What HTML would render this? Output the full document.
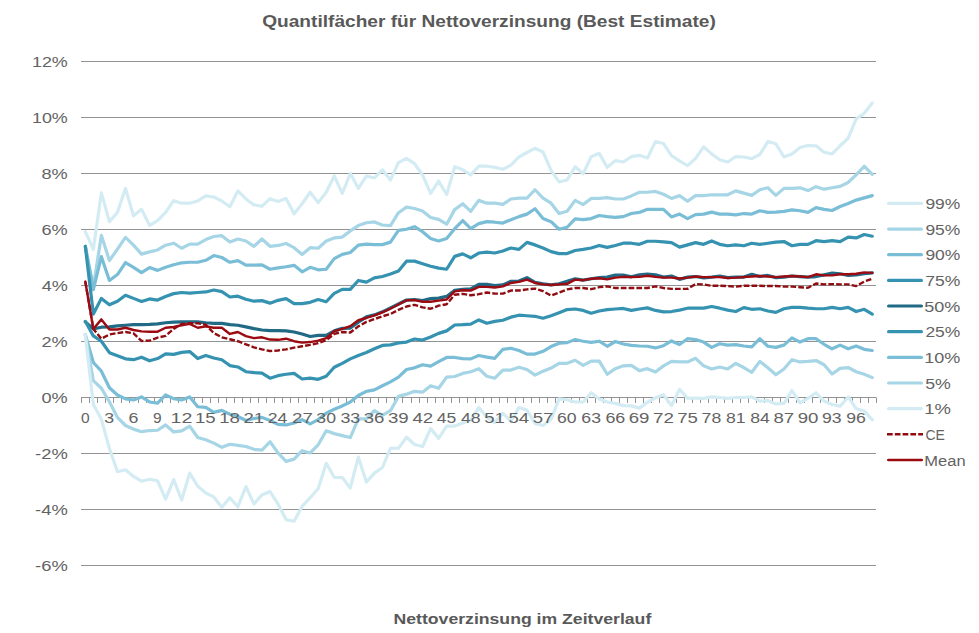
<!DOCTYPE html><html><head><meta charset="utf-8"><style>html,body{margin:0;padding:0;background:#fff;}svg{display:block;}</style></head><body>
<svg width="979" height="633" viewBox="0 0 979 633" style="font-family:'Liberation Sans',sans-serif">
<rect width="979" height="633" fill="#fff"/>
<line x1="81" y1="565.5" x2="876" y2="565.5" stroke="#939393" stroke-width="1"/>
<line x1="81" y1="509.5" x2="876" y2="509.5" stroke="#939393" stroke-width="1"/>
<line x1="81" y1="453.5" x2="876" y2="453.5" stroke="#939393" stroke-width="1"/>
<line x1="81" y1="397.5" x2="876" y2="397.5" stroke="#939393" stroke-width="1"/>
<line x1="81" y1="341.5" x2="876" y2="341.5" stroke="#939393" stroke-width="1"/>
<line x1="81" y1="285.5" x2="876" y2="285.5" stroke="#939393" stroke-width="1"/>
<line x1="81" y1="229.5" x2="876" y2="229.5" stroke="#939393" stroke-width="1"/>
<line x1="81" y1="173.5" x2="876" y2="173.5" stroke="#939393" stroke-width="1"/>
<line x1="81" y1="117.5" x2="876" y2="117.5" stroke="#939393" stroke-width="1"/>
<line x1="81" y1="61.5" x2="876" y2="61.5" stroke="#939393" stroke-width="1"/>
<path d="M81.5 397.5V403 M89.5 397.5V403 M97.5 397.5V403 M105.5 397.5V403 M113.5 397.5V403 M121.5 397.5V403 M129.5 397.5V403 M138.5 397.5V403 M146.5 397.5V403 M154.5 397.5V403 M162.5 397.5V403 M170.5 397.5V403 M178.5 397.5V403 M186.5 397.5V403 M194.5 397.5V403 M202.5 397.5V403 M210.5 397.5V403 M218.5 397.5V403 M226.5 397.5V403 M234.5 397.5V403 M242.5 397.5V403 M250.5 397.5V403 M258.5 397.5V403 M266.5 397.5V403 M274.5 397.5V403 M282.5 397.5V403 M290.5 397.5V403 M298.5 397.5V403 M306.5 397.5V403 M314.5 397.5V403 M322.5 397.5V403 M330.5 397.5V403 M338.5 397.5V403 M346.5 397.5V403 M354.5 397.5V403 M362.5 397.5V403 M370.5 397.5V403 M378.5 397.5V403 M386.5 397.5V403 M394.5 397.5V403 M402.5 397.5V403 M411.5 397.5V403 M419.5 397.5V403 M427.5 397.5V403 M435.5 397.5V403 M443.5 397.5V403 M451.5 397.5V403 M459.5 397.5V403 M467.5 397.5V403 M475.5 397.5V403 M483.5 397.5V403 M491.5 397.5V403 M499.5 397.5V403 M507.5 397.5V403 M515.5 397.5V403 M523.5 397.5V403 M531.5 397.5V403 M539.5 397.5V403 M547.5 397.5V403 M555.5 397.5V403 M563.5 397.5V403 M571.5 397.5V403 M579.5 397.5V403 M587.5 397.5V403 M595.5 397.5V403 M603.5 397.5V403 M611.5 397.5V403 M619.5 397.5V403 M627.5 397.5V403 M635.5 397.5V403 M643.5 397.5V403 M651.5 397.5V403 M659.5 397.5V403 M667.5 397.5V403 M676.5 397.5V403 M684.5 397.5V403 M692.5 397.5V403 M700.5 397.5V403 M708.5 397.5V403 M716.5 397.5V403 M724.5 397.5V403 M732.5 397.5V403 M740.5 397.5V403 M748.5 397.5V403 M756.5 397.5V403 M764.5 397.5V403 M772.5 397.5V403 M780.5 397.5V403 M788.5 397.5V403 M796.5 397.5V403 M804.5 397.5V403 M812.5 397.5V403 M820.5 397.5V403 M828.5 397.5V403 M836.5 397.5V403 M844.5 397.5V403 M852.5 397.5V403 M860.5 397.5V403 M868.5 397.5V403 M876.5 397.5V403" stroke="#939393" stroke-width="1" fill="none"/>
<polyline points="85.31,231.74 93.34,249.38 101.38,192.82 109.41,221.66 117.44,212.42 125.47,188.34 133.50,215.78 141.52,209.34 149.56,225.30 157.58,220.54 165.62,212.42 173.64,200.66 181.67,203.18 189.70,203.18 197.73,200.94 205.76,195.90 213.79,197.02 221.82,200.94 229.85,206.82 237.88,190.86 245.91,198.98 253.94,204.86 261.97,206.26 270.00,198.70 278.03,201.50 286.06,198.42 294.09,213.82 302.12,203.74 310.15,192.26 318.19,202.62 326.21,192.26 334.25,176.02 342.27,193.38 350.31,173.50 358.33,188.34 366.37,176.02 374.39,177.98 382.43,169.86 390.45,179.94 398.49,162.58 406.51,158.38 414.54,163.70 422.57,174.90 430.60,193.38 438.63,181.06 446.66,194.50 454.69,166.78 462.72,169.86 470.75,174.90 478.78,166.22 486.81,166.22 494.84,167.34 502.88,169.30 510.90,165.10 518.93,156.98 526.96,152.50 534.99,148.30 543.02,151.94 551.05,170.42 559.08,181.90 567.11,179.94 575.14,166.78 583.17,173.78 591.20,156.70 599.23,153.34 607.26,167.34 615.29,160.62 623.32,162.02 631.35,156.70 639.38,155.30 647.41,158.10 655.44,141.58 663.47,143.54 671.50,155.58 679.53,160.90 687.56,165.66 695.59,158.38 703.62,146.90 711.65,153.90 719.68,159.78 727.71,162.02 735.74,156.70 743.77,156.98 751.80,158.66 759.83,154.46 767.86,141.58 775.89,143.82 783.92,156.98 791.95,153.90 799.98,147.46 808.01,145.50 816.04,145.78 824.07,152.22 832.10,153.90 840.13,145.78 848.16,138.22 856.19,118.90 864.22,113.30 872.25,102.94" fill="none" stroke="#d3ecf3" stroke-width="3.2" stroke-linejoin="round" stroke-linecap="round"/>
<polyline points="85.31,246.30 93.34,286.90 101.38,235.38 109.41,260.58 117.44,249.10 125.47,237.34 133.50,245.18 141.52,254.14 149.56,251.90 157.58,249.94 165.62,245.18 173.64,243.22 181.67,248.26 189.70,244.06 197.73,244.06 205.76,239.58 213.79,236.50 221.82,235.66 229.85,242.10 237.88,239.02 245.91,240.98 253.94,246.30 261.97,239.02 270.00,246.30 278.03,245.46 286.06,243.50 294.09,247.70 302.12,254.42 310.15,247.70 318.19,248.26 326.21,240.98 334.25,237.90 342.27,237.06 350.31,230.90 358.33,225.58 366.37,222.78 374.39,221.94 382.43,225.02 390.45,225.58 398.49,212.70 406.51,207.10 414.54,208.50 422.57,211.02 430.60,217.46 438.63,219.42 446.66,224.18 454.69,209.62 462.72,203.74 470.75,211.30 478.78,200.38 486.81,203.18 494.84,203.18 502.88,204.30 510.90,198.98 518.93,198.14 526.96,198.14 534.99,189.74 543.02,198.14 551.05,203.18 559.08,213.54 567.11,211.30 575.14,200.38 583.17,204.58 591.20,198.42 599.23,198.42 607.26,197.58 615.29,198.98 623.32,198.98 631.35,195.90 639.38,192.26 647.41,192.26 655.44,191.42 663.47,194.22 671.50,198.42 679.53,195.62 687.56,201.22 695.59,195.62 703.62,195.62 711.65,194.78 719.68,194.78 727.71,194.78 735.74,190.86 743.77,193.10 751.80,195.34 759.83,189.74 767.86,187.78 775.89,195.34 783.92,188.34 791.95,188.34 799.98,187.78 808.01,190.58 816.04,186.66 824.07,189.18 832.10,187.78 840.13,186.38 848.16,182.46 856.19,174.90 864.22,166.22 872.25,174.34" fill="none" stroke="#a6d5e6" stroke-width="3.2" stroke-linejoin="round" stroke-linecap="round"/>
<polyline points="85.31,246.30 93.34,289.70 101.38,256.66 109.41,280.46 117.44,274.58 125.47,262.54 133.50,267.30 141.52,272.62 149.56,267.58 157.58,270.38 165.62,267.30 173.64,264.78 181.67,262.82 189.70,262.26 197.73,262.26 205.76,260.30 213.79,255.54 221.82,257.50 229.85,262.26 237.88,260.58 245.91,265.06 253.94,265.06 261.97,264.78 270.00,269.26 278.03,267.86 286.06,266.74 294.09,265.34 302.12,271.78 310.15,267.30 318.19,269.82 326.21,269.26 334.25,258.62 342.27,254.42 350.31,252.46 358.33,245.18 366.37,244.06 374.39,244.62 382.43,244.62 390.45,242.10 398.49,230.34 406.51,229.22 414.54,226.70 422.57,231.74 430.60,238.46 438.63,240.98 446.66,238.46 454.69,228.66 462.72,220.54 470.75,228.66 478.78,223.62 486.81,221.66 494.84,222.22 502.88,223.06 510.90,219.70 518.93,216.62 526.96,214.10 534.99,208.78 543.02,218.58 551.05,221.66 559.08,229.22 567.11,227.26 575.14,218.86 583.17,219.70 591.20,218.58 599.23,215.50 607.26,216.62 615.29,217.46 623.32,216.62 631.35,213.54 639.38,212.42 647.41,209.34 655.44,209.34 663.47,209.34 671.50,216.90 679.53,214.10 687.56,218.58 695.59,214.66 703.62,214.10 711.65,212.14 719.68,214.10 727.71,214.10 735.74,214.94 743.77,213.54 751.80,214.10 759.83,210.74 767.86,212.42 775.89,212.14 783.92,211.30 791.95,209.90 799.98,210.74 808.01,212.42 816.04,207.66 824.07,209.34 832.10,210.46 840.13,206.54 848.16,203.46 856.19,200.10 864.22,197.86 872.25,195.62" fill="none" stroke="#79bdd6" stroke-width="3.2" stroke-linejoin="round" stroke-linecap="round"/>
<polyline points="85.31,246.30 93.34,314.06 101.38,298.38 109.41,304.82 117.44,301.18 125.47,295.30 133.50,298.38 141.52,301.46 149.56,298.94 157.58,300.06 165.62,296.42 173.64,293.62 181.67,292.50 189.70,293.06 197.73,292.50 205.76,291.94 213.79,289.98 221.82,291.66 229.85,296.98 237.88,296.14 245.91,299.22 253.94,301.18 261.97,300.62 270.00,303.14 278.03,300.34 286.06,298.66 294.09,303.70 302.12,303.70 310.15,302.30 318.19,299.50 326.21,301.74 334.25,293.34 342.27,289.42 350.31,289.42 358.33,280.46 366.37,282.14 374.39,277.94 382.43,276.54 390.45,274.02 398.49,270.94 406.51,261.14 414.54,261.14 422.57,263.66 430.60,266.18 438.63,268.14 446.66,269.26 454.69,256.38 462.72,253.86 470.75,257.78 478.78,253.02 486.81,252.18 494.84,253.02 502.88,251.06 510.90,247.98 518.93,249.38 526.96,242.38 534.99,244.90 543.02,247.98 551.05,251.62 559.08,253.58 567.11,253.58 575.14,250.50 583.17,249.38 591.20,247.98 599.23,245.46 607.26,247.42 615.29,245.46 623.32,243.22 631.35,243.22 639.38,244.34 647.41,241.26 655.44,241.26 663.47,241.82 671.50,242.66 679.53,247.14 687.56,244.90 695.59,242.66 703.62,244.34 711.65,240.98 719.68,244.34 727.71,245.74 735.74,244.90 743.77,245.74 751.80,243.22 759.83,244.34 767.86,243.22 775.89,242.10 783.92,241.54 791.95,245.74 799.98,244.34 808.01,244.34 816.04,240.70 824.07,241.54 832.10,240.70 840.13,241.54 848.16,237.06 856.19,237.90 864.22,234.54 872.25,236.22" fill="none" stroke="#3592b0" stroke-width="3.2" stroke-linejoin="round" stroke-linecap="round"/>
<polyline points="85.31,321.90 93.34,328.90 101.38,327.22 109.41,326.94 117.44,325.82 125.47,325.26 133.50,324.70 141.52,324.70 149.56,324.42 157.58,323.86 165.62,322.74 173.64,322.18 181.67,321.90 189.70,321.90 197.73,321.90 205.76,322.74 213.79,323.30 221.82,323.30 229.85,324.70 237.88,325.26 245.91,326.94 253.94,328.62 261.97,330.02 270.00,330.58 278.03,330.58 286.06,330.86 294.09,331.98 302.12,333.94 310.15,336.46 318.19,335.34 326.21,335.34 334.25,330.86 342.27,328.34 350.31,328.06 358.33,322.18 366.37,316.86 374.39,314.90 382.43,311.82 390.45,307.90 398.49,303.98 406.51,300.06 414.54,299.50 422.57,300.62 430.60,298.66 438.63,298.10 446.66,296.42 454.69,290.26 462.72,289.42 470.75,288.86 478.78,284.38 486.81,284.38 494.84,285.50 502.88,284.94 510.90,281.30 518.93,281.02 526.96,277.66 534.99,282.42 543.02,283.82 551.05,284.94 559.08,283.82 567.11,281.30 575.14,278.78 583.17,280.18 591.20,278.78 599.23,277.66 607.26,277.10 615.29,275.14 623.32,275.14 631.35,276.82 639.38,274.86 647.41,274.02 655.44,274.86 663.47,277.10 671.50,275.98 679.53,279.34 687.56,277.10 695.59,276.54 703.62,277.94 711.65,277.10 719.68,275.98 727.71,277.66 735.74,277.10 743.77,277.10 751.80,274.30 759.83,276.54 767.86,275.42 775.89,277.66 783.92,277.10 791.95,275.98 799.98,276.54 808.01,277.10 816.04,276.54 824.07,274.86 832.10,273.18 840.13,273.74 848.16,275.42 856.19,274.86 864.22,273.74 872.25,272.90" fill="none" stroke="#216a85" stroke-width="3.2" stroke-linejoin="round" stroke-linecap="round"/>
<polyline points="85.31,321.34 93.34,335.90 101.38,341.22 109.41,352.70 117.44,355.78 125.47,358.86 133.50,359.70 141.52,357.18 149.56,360.82 157.58,358.58 165.62,353.82 173.64,354.38 181.67,352.42 189.70,351.58 197.73,358.58 205.76,355.50 213.79,358.02 221.82,359.70 229.85,365.58 237.88,366.98 245.91,371.74 253.94,372.58 261.97,373.14 270.00,378.18 278.03,375.66 286.06,374.26 294.09,373.42 302.12,379.02 310.15,378.18 318.19,379.30 326.21,376.22 334.25,367.26 342.27,363.34 350.31,358.86 358.33,355.50 366.37,352.42 374.39,348.78 382.43,345.42 390.45,344.86 398.49,342.90 406.51,342.06 414.54,338.98 422.57,340.10 430.60,337.02 438.63,333.38 446.66,330.86 454.69,324.98 462.72,324.70 470.75,324.14 478.78,319.94 486.81,323.30 494.84,321.34 502.88,320.22 510.90,317.14 518.93,315.18 526.96,315.74 534.99,316.30 543.02,318.26 551.05,315.74 559.08,312.66 567.11,309.58 575.14,309.02 583.17,310.42 591.20,313.22 599.23,310.98 607.26,309.58 615.29,309.02 623.32,308.46 631.35,310.42 639.38,309.02 647.41,307.90 655.44,310.42 663.47,311.82 671.50,311.54 679.53,310.14 687.56,308.18 695.59,308.18 703.62,308.18 711.65,306.50 719.68,308.18 727.71,310.14 735.74,311.54 743.77,307.62 751.80,309.30 759.83,308.74 767.86,310.98 775.89,312.38 783.92,308.74 791.95,307.34 799.98,307.34 808.01,308.18 816.04,308.74 824.07,308.74 832.10,307.34 840.13,308.74 848.16,307.34 856.19,311.54 864.22,309.30 872.25,314.06" fill="none" stroke="#3592b0" stroke-width="3.2" stroke-linejoin="round" stroke-linecap="round"/>
<polyline points="85.31,334.78 93.34,362.50 101.38,371.18 109.41,387.70 117.44,394.98 125.47,398.90 133.50,400.02 141.52,396.94 149.56,401.98 157.58,403.10 165.62,394.98 173.64,398.62 181.67,400.02 189.70,396.94 197.73,406.74 205.76,407.30 213.79,412.34 221.82,410.38 229.85,414.30 237.88,416.54 245.91,420.46 253.94,418.50 261.97,417.38 270.00,420.46 278.03,424.38 286.06,424.94 294.09,422.98 302.12,419.62 310.15,423.82 318.19,419.62 326.21,413.18 334.25,409.26 342.27,405.90 350.31,401.98 358.33,395.54 366.37,391.34 374.39,389.94 382.43,385.74 390.45,381.82 398.49,377.06 406.51,369.50 414.54,367.82 422.57,364.74 430.60,366.14 438.63,361.66 446.66,357.46 454.69,357.46 462.72,358.58 470.75,358.86 478.78,355.50 486.81,357.18 494.84,358.30 502.88,349.34 510.90,348.22 518.93,350.46 526.96,354.10 534.99,354.10 543.02,351.30 551.05,346.54 559.08,343.18 567.11,342.62 575.14,339.54 583.17,341.22 591.20,342.34 599.23,341.22 607.26,346.26 615.29,341.50 623.32,344.02 631.35,345.42 639.38,345.98 647.41,346.26 655.44,347.94 663.47,345.70 671.50,340.94 679.53,344.58 687.56,338.70 695.59,339.54 703.62,342.06 711.65,347.38 719.68,343.74 727.71,345.14 735.74,344.58 743.77,345.98 751.80,346.82 759.83,338.70 767.86,346.26 775.89,347.38 783.92,345.14 791.95,337.86 799.98,342.06 808.01,338.70 816.04,338.70 824.07,344.30 832.10,348.78 840.13,345.14 848.16,348.78 856.19,345.98 864.22,349.34 872.25,350.46" fill="none" stroke="#79bdd6" stroke-width="3.2" stroke-linejoin="round" stroke-linecap="round"/>
<polyline points="85.31,334.78 93.34,380.70 101.38,388.26 109.41,401.70 117.44,417.38 125.47,425.50 133.50,429.14 141.52,431.66 149.56,430.54 157.58,430.26 165.62,424.94 173.64,431.94 181.67,430.82 189.70,426.06 197.73,437.54 205.76,439.78 213.79,443.14 221.82,447.34 229.85,444.26 237.88,445.38 245.91,446.50 253.94,449.30 261.97,450.14 270.00,441.74 278.03,452.94 286.06,461.34 294.09,459.10 302.12,450.70 310.15,452.94 318.19,444.82 326.21,430.82 334.25,433.62 342.27,435.58 350.31,437.54 358.33,418.78 366.37,418.78 374.39,410.66 382.43,415.42 390.45,410.66 398.49,396.38 406.51,394.14 414.54,391.34 422.57,392.18 430.60,385.74 438.63,388.26 446.66,377.06 454.69,376.50 462.72,373.42 470.75,371.74 478.78,368.66 486.81,376.22 494.84,378.18 502.88,370.06 510.90,370.06 518.93,367.26 526.96,369.50 534.99,375.10 543.02,371.18 551.05,368.10 559.08,363.34 567.11,363.34 575.14,360.26 583.17,365.30 591.20,361.10 599.23,361.10 607.26,374.26 615.29,368.66 623.32,365.86 631.35,365.30 639.38,370.62 647.41,368.66 655.44,372.02 663.47,365.86 671.50,361.38 679.53,361.94 687.56,361.94 695.59,358.30 703.62,365.86 711.65,368.94 719.68,366.98 727.71,368.94 735.74,363.34 743.77,367.54 751.80,372.30 759.83,361.38 767.86,367.82 775.89,374.82 783.92,368.94 791.95,359.70 799.98,361.94 808.01,361.38 816.04,360.54 824.07,364.74 832.10,373.98 840.13,368.38 848.16,367.54 856.19,371.74 864.22,374.26 872.25,377.62" fill="none" stroke="#a6d5e6" stroke-width="3.2" stroke-linejoin="round" stroke-linecap="round"/>
<polyline points="85.31,334.78 93.34,404.50 101.38,419.34 109.41,448.46 117.44,471.70 125.47,469.74 133.50,476.46 141.52,481.22 149.56,479.26 157.58,480.94 165.62,499.14 173.64,479.54 181.67,499.98 189.70,473.10 197.73,486.26 205.76,492.98 213.79,496.90 221.82,507.26 229.85,497.74 237.88,506.70 245.91,486.54 253.94,503.90 261.97,494.94 270.00,491.58 278.03,503.90 286.06,519.58 294.09,521.26 302.12,506.42 310.15,497.74 318.19,488.78 326.21,463.30 334.25,477.30 342.27,477.58 350.31,487.94 358.33,457.14 366.37,482.06 374.39,473.10 382.43,467.50 390.45,448.46 398.49,448.18 406.51,437.26 414.54,444.54 422.57,446.50 430.60,428.58 438.63,438.38 446.66,426.06 454.69,426.06 462.72,422.98 470.75,420.18 478.78,407.58 486.81,417.38 494.84,422.42 502.88,413.18 510.90,421.30 518.93,407.58 526.96,410.10 534.99,423.54 543.02,425.50 551.05,419.34 559.08,398.90 567.11,399.74 575.14,401.98 583.17,401.98 591.20,392.74 599.23,398.90 607.26,401.98 615.29,403.38 623.32,405.62 631.35,405.90 639.38,408.14 647.41,402.26 655.44,397.78 663.47,394.70 671.50,405.62 679.53,389.38 687.56,398.06 695.59,398.06 703.62,398.34 711.65,396.94 719.68,397.50 727.71,398.34 735.74,397.50 743.77,397.50 751.80,396.94 759.83,401.14 767.86,400.58 775.89,403.94 783.92,403.38 791.95,390.50 799.98,402.82 808.01,398.34 816.04,392.74 824.07,401.14 832.10,404.50 840.13,406.18 848.16,396.94 856.19,408.70 864.22,410.94 872.25,419.90" fill="none" stroke="#d3ecf3" stroke-width="3.2" stroke-linejoin="round" stroke-linecap="round"/>
<polyline points="85.31,281.58 93.34,328.90 101.38,338.70 109.41,334.50 117.44,333.10 125.47,331.98 133.50,333.38 141.52,340.94 149.56,340.66 157.58,337.58 165.62,335.90 173.64,328.90 181.67,323.86 189.70,323.30 197.73,323.30 205.76,324.70 213.79,333.10 221.82,337.30 229.85,339.26 237.88,341.22 245.91,344.30 253.94,347.38 261.97,349.34 270.00,351.02 278.03,350.46 286.06,349.34 294.09,347.66 302.12,346.26 310.15,344.86 318.19,343.18 326.21,340.10 334.25,333.94 342.27,331.98 350.31,332.54 358.33,326.38 366.37,321.90 374.39,319.10 382.43,316.30 390.45,314.06 398.49,309.86 406.51,306.50 414.54,304.82 422.57,307.34 430.60,308.74 438.63,305.66 446.66,304.26 454.69,294.74 462.72,293.90 470.75,295.30 478.78,294.18 486.81,292.50 494.84,293.62 502.88,293.62 510.90,290.54 518.93,290.54 526.96,289.42 534.99,288.58 543.02,291.10 551.05,295.58 559.08,292.50 567.11,289.42 575.14,288.02 583.17,288.02 591.20,289.14 599.23,287.18 607.26,286.34 615.29,288.02 623.32,288.02 631.35,288.02 639.38,288.02 647.41,288.02 655.44,286.34 663.47,288.02 671.50,288.86 679.53,288.86 687.56,288.86 695.59,284.10 703.62,284.38 711.65,285.78 719.68,285.78 727.71,286.06 735.74,286.62 743.77,285.78 751.80,285.78 759.83,285.78 767.86,286.06 775.89,286.06 783.92,286.62 791.95,286.62 799.98,287.18 808.01,287.74 816.04,283.54 824.07,284.38 832.10,284.10 840.13,284.38 848.16,284.38 856.19,286.06 864.22,281.58 872.25,278.78" fill="none" stroke="#900c10" stroke-width="2.4" stroke-linejoin="round" stroke-linecap="butt" stroke-dasharray="5.7 2.1"/>
<polyline points="85.31,281.58 93.34,328.90 101.38,319.38 109.41,329.46 117.44,329.46 125.47,327.78 133.50,330.02 141.52,331.42 149.56,331.70 157.58,331.70 165.62,327.78 173.64,326.94 181.67,325.26 189.70,323.86 197.73,327.78 205.76,326.38 213.79,327.78 221.82,327.78 229.85,333.94 237.88,331.98 245.91,336.18 253.94,338.14 261.97,337.30 270.00,339.54 278.03,339.82 286.06,338.70 294.09,341.22 302.12,342.62 310.15,342.06 318.19,340.66 326.21,338.14 334.25,331.14 342.27,328.90 350.31,326.10 358.33,320.22 366.37,317.98 374.39,315.46 382.43,312.38 390.45,308.74 398.49,304.54 406.51,300.34 414.54,300.06 422.57,301.74 430.60,301.74 438.63,300.62 446.66,299.50 454.69,291.38 462.72,290.26 470.75,290.54 478.78,286.90 486.81,286.90 494.84,287.46 502.88,286.34 510.90,282.98 518.93,281.86 526.96,279.62 534.99,282.98 543.02,284.38 551.05,284.94 559.08,284.38 567.11,283.82 575.14,279.62 583.17,280.18 591.20,278.78 599.23,278.22 607.26,279.34 615.29,277.66 623.32,276.82 631.35,277.10 639.38,276.82 647.41,275.70 655.44,276.82 663.47,277.66 671.50,277.66 679.53,278.50 687.56,277.66 695.59,276.54 703.62,277.10 711.65,277.10 719.68,277.10 727.71,277.94 735.74,277.66 743.77,277.10 751.80,276.54 759.83,275.98 767.86,276.54 775.89,277.10 783.92,276.54 791.95,275.98 799.98,276.54 808.01,277.10 816.04,274.30 824.07,275.42 832.10,275.42 840.13,274.30 848.16,274.30 856.19,273.74 864.22,272.34 872.25,272.90" fill="none" stroke="#9c0a12" stroke-width="2.4" stroke-linejoin="round" stroke-linecap="round"/>
<line x1="888.60" y1="203.4" x2="921.40" y2="203.4" stroke="#d3ecf3" stroke-width="3.2" stroke-linecap="round"/>
<line x1="888.60" y1="229.1" x2="921.40" y2="229.1" stroke="#a6d5e6" stroke-width="3.2" stroke-linecap="round"/>
<line x1="888.60" y1="254.7" x2="921.40" y2="254.7" stroke="#79bdd6" stroke-width="3.2" stroke-linecap="round"/>
<line x1="888.60" y1="280.4" x2="921.40" y2="280.4" stroke="#3592b0" stroke-width="3.2" stroke-linecap="round"/>
<line x1="888.60" y1="306.0" x2="921.40" y2="306.0" stroke="#216a85" stroke-width="3.2" stroke-linecap="round"/>
<line x1="888.60" y1="331.7" x2="921.40" y2="331.7" stroke="#3592b0" stroke-width="3.2" stroke-linecap="round"/>
<line x1="888.60" y1="357.4" x2="921.40" y2="357.4" stroke="#79bdd6" stroke-width="3.2" stroke-linecap="round"/>
<line x1="888.60" y1="383.0" x2="921.40" y2="383.0" stroke="#a6d5e6" stroke-width="3.2" stroke-linecap="round"/>
<line x1="888.60" y1="408.7" x2="921.40" y2="408.7" stroke="#d3ecf3" stroke-width="3.2" stroke-linecap="round"/>
<line x1="887.00" y1="434.3" x2="923.00" y2="434.3" stroke="#900c10" stroke-width="2.4" stroke-linecap="butt" stroke-dasharray="5.7 2.1"/>
<line x1="888.20" y1="460.0" x2="921.80" y2="460.0" stroke="#9c0a12" stroke-width="2.4" stroke-linecap="round"/>
<text transform="translate(489.00 26.60) scale(1.1958 1)" font-size="16" font-weight="bold" fill="#595959" text-anchor="middle">Quantilfächer für Nettoverzinsung (Best Estimate)</text>
<text transform="translate(67.76 570.90) scale(1.1864 1)" font-size="15.5" fill="#636363" text-anchor="end">-6%</text>
<text transform="translate(67.76 514.90) scale(1.1864 1)" font-size="15.5" fill="#636363" text-anchor="end">-4%</text>
<text transform="translate(67.76 458.90) scale(1.1864 1)" font-size="15.5" fill="#636363" text-anchor="end">-2%</text>
<text transform="translate(67.75 402.90) scale(1.1716 1)" font-size="15.5" fill="#636363" text-anchor="end">0%</text>
<text transform="translate(67.75 346.90) scale(1.1716 1)" font-size="15.5" fill="#636363" text-anchor="end">2%</text>
<text transform="translate(67.76 290.90) scale(1.1649 1)" font-size="15.5" fill="#636363" text-anchor="end">4%</text>
<text transform="translate(67.75 234.90) scale(1.1716 1)" font-size="15.5" fill="#636363" text-anchor="end">6%</text>
<text transform="translate(67.75 178.90) scale(1.1716 1)" font-size="15.5" fill="#636363" text-anchor="end">8%</text>
<text transform="translate(67.75 122.90) scale(1.1534 1)" font-size="15.5" fill="#636363" text-anchor="end">10%</text>
<text transform="translate(67.75 66.90) scale(1.1534 1)" font-size="15.5" fill="#636363" text-anchor="end">12%</text>
<text transform="translate(85.42 422.60) scale(1.0044 1)" font-size="15.5" fill="#636363" text-anchor="middle">0</text>
<text transform="translate(109.19 422.60) scale(1.1479 1)" font-size="15.5" fill="#636363" text-anchor="middle">3</text>
<text transform="translate(133.48 422.60) scale(1.1479 1)" font-size="15.5" fill="#636363" text-anchor="middle">6</text>
<text transform="translate(157.28 422.60) scale(1.0044 1)" font-size="15.5" fill="#636363" text-anchor="middle">9</text>
<text transform="translate(181.45 422.60) scale(1.2719 1)" font-size="15.5" fill="#636363" text-anchor="middle">12</text>
<text transform="translate(205.24 422.60) scale(1.2013 1)" font-size="15.5" fill="#636363" text-anchor="middle">15</text>
<text transform="translate(229.53 422.60) scale(1.2013 1)" font-size="15.5" fill="#636363" text-anchor="middle">18</text>
<text transform="translate(253.82 422.60) scale(1.2013 1)" font-size="15.5" fill="#636363" text-anchor="middle">21</text>
<text transform="translate(277.62 422.60) scale(1.1380 1)" font-size="15.5" fill="#636363" text-anchor="middle">24</text>
<text transform="translate(302.40 422.60) scale(1.2013 1)" font-size="15.5" fill="#636363" text-anchor="middle">27</text>
<text transform="translate(326.18 422.60) scale(1.1380 1)" font-size="15.5" fill="#636363" text-anchor="middle">30</text>
<text transform="translate(350.36 422.60) scale(1.1532 1)" font-size="15.5" fill="#636363" text-anchor="middle">33</text>
<text transform="translate(374.08 422.60) scale(1.2013 1)" font-size="15.5" fill="#636363" text-anchor="middle">36</text>
<text transform="translate(398.37 422.60) scale(1.2013 1)" font-size="15.5" fill="#636363" text-anchor="middle">39</text>
<text transform="translate(422.83 422.60) scale(1.2013 1)" font-size="15.5" fill="#636363" text-anchor="middle">42</text>
<text transform="translate(446.51 422.60) scale(1.1306 1)" font-size="15.5" fill="#636363" text-anchor="middle">45</text>
<text transform="translate(470.73 422.60) scale(1.1380 1)" font-size="15.5" fill="#636363" text-anchor="middle">48</text>
<text transform="translate(494.50 422.60) scale(1.2013 1)" font-size="15.5" fill="#636363" text-anchor="middle">51</text>
<text transform="translate(518.79 422.60) scale(1.2012 1)" font-size="15.5" fill="#636363" text-anchor="middle">54</text>
<text transform="translate(543.08 422.60) scale(1.2012 1)" font-size="15.5" fill="#636363" text-anchor="middle">57</text>
<text transform="translate(566.87 422.60) scale(1.1380 1)" font-size="15.5" fill="#636363" text-anchor="middle">60</text>
<text transform="translate(591.15 422.60) scale(1.1380 1)" font-size="15.5" fill="#636363" text-anchor="middle">63</text>
<text transform="translate(615.33 422.60) scale(1.1532 1)" font-size="15.5" fill="#636363" text-anchor="middle">66</text>
<text transform="translate(639.04 422.60) scale(1.2012 1)" font-size="15.5" fill="#636363" text-anchor="middle">69</text>
<text transform="translate(663.42 422.60) scale(1.2139 1)" font-size="15.5" fill="#636363" text-anchor="middle">72</text>
<text transform="translate(687.63 422.60) scale(1.2012 1)" font-size="15.5" fill="#636363" text-anchor="middle">75</text>
<text transform="translate(711.41 422.60) scale(1.1380 1)" font-size="15.5" fill="#636363" text-anchor="middle">78</text>
<text transform="translate(735.69 422.60) scale(1.1380 1)" font-size="15.5" fill="#636363" text-anchor="middle">81</text>
<text transform="translate(759.97 422.60) scale(1.1380 1)" font-size="15.5" fill="#636363" text-anchor="middle">84</text>
<text transform="translate(783.76 422.60) scale(1.2012 1)" font-size="15.5" fill="#636363" text-anchor="middle">87</text>
<text transform="translate(808.05 422.60) scale(1.2012 1)" font-size="15.5" fill="#636363" text-anchor="middle">90</text>
<text transform="translate(831.84 422.60) scale(1.1380 1)" font-size="15.5" fill="#636363" text-anchor="middle">93</text>
<text transform="translate(856.12 422.60) scale(1.1380 1)" font-size="15.5" fill="#636363" text-anchor="middle">96</text>
<text transform="translate(522.39 623.90) scale(1.2171 1)" font-size="14.5" font-weight="bold" fill="#595959" text-anchor="middle">Nettoverzinsung im Zeitverlauf</text>
<text transform="translate(925.38 209.00) scale(1.1270 1)" font-size="15.5" fill="#636363" text-anchor="start">99%</text>
<text transform="translate(925.38 234.66) scale(1.1270 1)" font-size="15.5" fill="#636363" text-anchor="start">95%</text>
<text transform="translate(925.38 260.32) scale(1.1270 1)" font-size="15.5" fill="#636363" text-anchor="start">90%</text>
<text transform="translate(925.20 285.98) scale(1.1335 1)" font-size="15.5" fill="#636363" text-anchor="start">75%</text>
<text transform="translate(924.20 311.64) scale(1.1659 1)" font-size="15.5" fill="#636363" text-anchor="start">50%</text>
<text transform="translate(925.38 337.30) scale(1.1270 1)" font-size="15.5" fill="#636363" text-anchor="start">25%</text>
<text transform="translate(924.20 362.96) scale(1.1659 1)" font-size="15.5" fill="#636363" text-anchor="start">10%</text>
<text transform="translate(925.19 388.62) scale(1.1447 1)" font-size="15.5" fill="#636363" text-anchor="start">5%</text>
<text transform="translate(924.17 414.28) scale(1.1905 1)" font-size="15.5" fill="#636363" text-anchor="start">1%</text>
<text transform="translate(925.48 439.94) scale(0.9025 1)" font-size="15.5" fill="#636363" text-anchor="start">CE</text>
<text transform="translate(924.32 465.60) scale(1.0652 1)" font-size="15.5" fill="#636363" text-anchor="start">Mean</text>
</svg></body></html>
